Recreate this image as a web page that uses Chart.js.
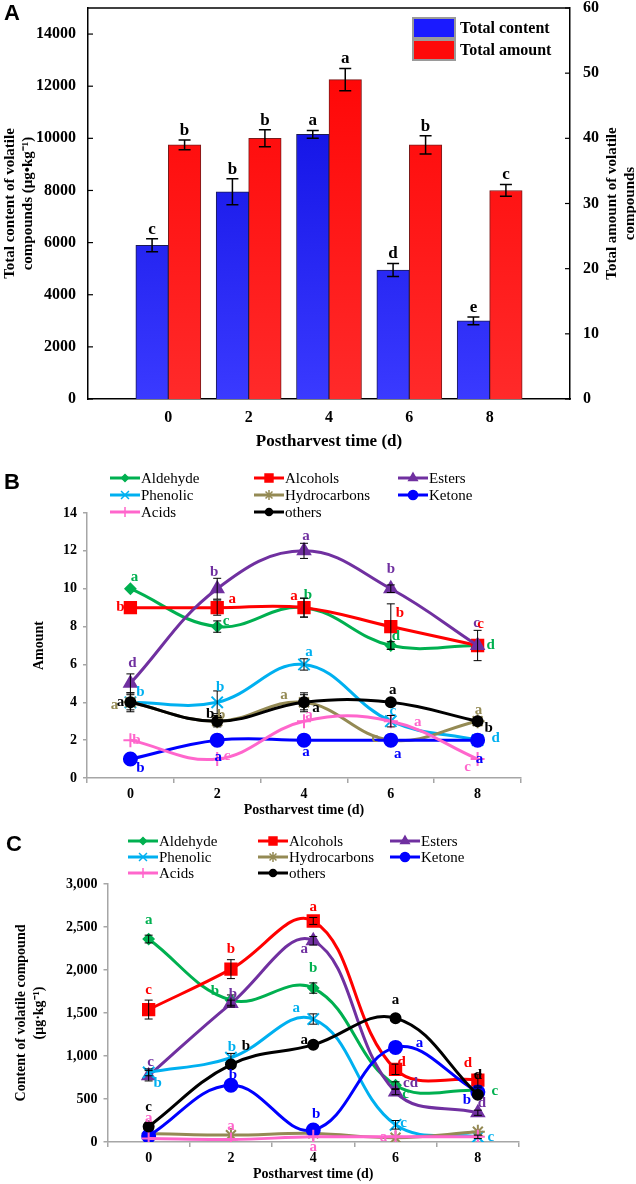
<!DOCTYPE html>
<html>
<head>
<meta charset="utf-8">
<script src="https://cdn.jsdelivr.net/npm/chart.js@4.4.0/dist/chart.umd.min.js"></script>
<style>
body { margin: 0; background: #fff; }
.panel { position: absolute; left: 0; width: 636px; }
</style>
</head>
<body>
<div class="panel" style="top:0;height:460px"><canvas id="chartA"></canvas></div>
<div class="panel" style="top:460px;height:360px"><canvas id="chartB"></canvas></div>
<div class="panel" style="top:820px;height:364px"><canvas id="chartC"></canvas></div>
<script>
// ---- data ----
var days = ['0', '2', '4', '6', '8'];

// A: totals
var contentTicks = [0, 2000, 4000, 6000, 8000, 10000, 12000, 14000];
var amountTicks = [0, 10, 20, 30, 40, 50, 60];
var totalContent = [5900, 7950, 10150, 4950, 3000];
var totalContentSd = [250, 500, 150, 250, 150];
var totalContentSig = ['c', 'b', 'a', 'd', 'e'];
var totalAmount = [39, 40, 49, 39, 32];
var totalAmountSd = [0.75, 1.3, 1.7, 1.4, 0.9];
var totalAmountSig = ['b', 'b', 'a', 'b', 'c'];

var classNames = ['Aldehyde', 'Alcohols', 'Esters', 'Phenolic', 'Hydrocarbons', 'Ketone', 'Acids', 'others'];

// B: amount of compounds per class
var amountAldehyde = [10, 8, 9, 7, 7];
var amountAlcohols = [9, 9, 9, 8, 7];
var amountEsters = [5, 10, 12, 10, 7];
var amountPhenolic = [4, 4, 6, 3, 2];
var amountHydrocarbons = [4, 3, 4, 2, 3];
var amountKetone = [1, 2, 2, 2, 2];
var amountAcids = [2, 1, 3, 3, 1];
var amountOthers = [4, 3, 4, 4, 3];

var amountAldehydeSd = [0, 0.3, 0.5, 0.2, 0];
var amountAlcoholsSd = [0, 0.4, 0.5, 1.2, 0];
var amountEstersSd = [0.5, 0.55, 0.4, 0.2, 0.8];
var amountPhenolicSd = [0, 0.6, 0.3, 0.3, 0];
var amountHydrocarbonsSd = [0.5, 0.3, 0.5, 0, 0.2];
var amountKetoneSd = [0, 0, 0, 0, 0];
var amountAcidsSd = [0, 0, 0, 0, 0];
var amountOthersSd = [0.4, 0.2, 0.4, 0, 0.2];

var amountAldehydeSig = ['a', 'c', 'b', 'd', 'd'];
var amountAlcoholsSig = ['b', 'a', 'a', 'b', 'c'];
var amountEstersSig = ['d', 'b', 'a', 'b', 'c'];
var amountPhenolicSig = ['b', 'b', 'a', 'c', 'd'];
var amountHydrocarbonsSig = ['a', 'b', 'a', 'c', 'a'];
var amountKetoneSig = ['b', 'a', 'a', 'a', 'a'];
var amountAcidsSig = ['b', 'c', 'a', 'a', 'c'];
var amountOthersSig = ['a', 'b', 'a', 'a', 'b'];

// C: content of compounds per class (ug/kg)
var contentAldehyde = [2360, 1650, 1790, 660, 600];
var contentAlcohols = [1540, 2010, 2570, 845, 720];
var contentEsters = [770, 1610, 2340, 580, 340];
var contentPhenolic = [810, 980, 1430, 200, 60];
var contentHydrocarbons = [100, 80, 100, 50, 120];
var contentKetone = [70, 660, 140, 1100, 580];
var contentAcids = [40, 30, 60, 60, 60];
var contentOthers = [180, 900, 1130, 1440, 550];

var contentAldehydeSd = [45, 60, 60, 40, 30];
var contentAlcoholsSd = [110, 110, 40, 60, 70];
var contentEstersSd = [60, 40, 50, 30, 30];
var contentPhenolicSd = [40, 50, 60, 50, 20];
var contentHydrocarbonsSd = [0, 0, 0, 0, 0];
var contentKetoneSd = [0, 0, 0, 0, 0];
var contentAcidsSd = [0, 0, 0, 0, 0];
var contentOthersSd = [30, 20, 20, 20, 20];

var contentAldehydeSig = ['a', 'b', 'b', 'c', 'c'];
var contentAlcoholsSig = ['c', 'b', 'a', 'd', 'd'];
var contentEstersSig = ['c', 'b', 'a', 'cd', 'd'];
var contentPhenolicSig = ['b', 'b', 'a', 'c', 'c'];
var contentHydrocarbonsSig = ['', '', '', '', ''];
var contentKetoneSig = ['', 'b', 'b', 'a', 'b'];
var contentAcidsSig = ['a', 'a', 'a', 'a', ''];
var contentOthersSig = ['c', 'b', 'a', 'a', 'd'];

// ---- styles ----
var serif = "'Liberation Serif', 'Times New Roman', serif";
var sans = "'Liberation Sans', Arial, sans-serif";
var classColors = ['#00b050', '#ff0000', '#7030a0', '#00b0f0', '#948a54', '#0000ff', '#ff66cc', '#000000'];
var classStyles = ['rectRot', 'rect', 'triangle', 'crossRot', 'star', 'circle', 'cross', 'circle'];
var classRadius = [5, 8, 7, 8, 7, 6.5, 7, 5];

// letter offsets [dx, dy] from each point
var offsetsB = [
    [[4, -12], [9, -5], [4, -13], [5, -9], [13, 0]],
    [[-10, -1], [15, -9], [-10, -12], [9, -13], [3, -21]],
    [[2, -20], [-3, -17], [2, -15], [0, -20], [-1, -22]],
    [[10, -10], [3, -15], [5, -12], [2, -10], [18, -2]],
    [[-16, 3], [4, -6], [-20, -7], [-16, -2], [1, -11]],
    [[10, 9], [1, 17], [2, 12], [7, 14], [2, 19]],
    [[6, 0], [10, -3], [5, -6], [27, 1], [-10, 8]],
    [[-10, 0], [-7, -7], [12, 6], [2, -12], [11, 7]]
];
var offsetsC = [
    [[0, -19], [-16, -9], [0, -20], [10, 9], [17, 1]],
    [[0, -19], [0, -20], [0, -14], [6, -7], [-10, -17]],
    [[2, -14], [2, -9], [-9, 8], [15, -9], [4, -10]],
    [[9, 11], [1, -11], [-17, -11], [8, -2], [13, 0]],
    [[0, 0], [0, 0], [0, 0], [0, 0], [0, 0]],
    [[0, 0], [2, -10], [3, -16], [24, -4], [-11, 8]],
    [[0, -20], [0, -13], [0, 10], [-12, 0], [0, 0]],
    [[0, -19], [15, -18], [-9, -5], [0, -18], [0, -20]]
];

function pad(arr) { return [null].concat(arr, [null]); }

// error bars, significance letters, legends, frame
var extras = {
    id: 'extras',
    afterDatasetsDraw: function (chart, args, o) {
        var ctx = chart.ctx;
        ctx.save();
        chart.data.datasets.forEach(function (ds, i) {
            var meta = chart.getDatasetMeta(i);
            var ys = chart.scales[meta.yAxisID];
            var offs = o.offsets ? o.offsets[i] : null;
            meta.data.forEach(function (el, j) {
                var v = ds.data[j];
                if (v == null) return;
                var e = ds.errors ? ds.errors[j] : 0;
                var x = el.x;
                if (e) {
                    var yt = ys.getPixelForValue(v + e), yb = ys.getPixelForValue(v - e);
                    ctx.strokeStyle = '#000';
                    ctx.lineWidth = o.errWidth;
                    ctx.beginPath();
                    ctx.moveTo(x, yt); ctx.lineTo(x, yb);
                    ctx.moveTo(x - o.cap, yt); ctx.lineTo(x + o.cap, yt);
                    ctx.moveTo(x - o.cap, yb); ctx.lineTo(x + o.cap, yb);
                    ctx.stroke();
                }
                var t = ds.letters ? ds.letters[j] : '';
                if (!t) return;
                ctx.font = o.letterFont;
                ctx.fillStyle = ds.letterColor || ds.borderColor;
                ctx.textAlign = 'center';
                if (offs) {
                    ctx.textBaseline = 'middle';
                    ctx.fillText(t, x + offs[j][0], el.y + offs[j][1]);
                } else {
                    ctx.textBaseline = 'bottom';
                    ctx.fillText(t, x, ys.getPixelForValue(v + e) - 1);
                }
            });
        });
        ctx.restore();
    },
    afterDraw: function (chart, args, o) {
        var ctx = chart.ctx;
        var area = chart.chartArea;
        ctx.save();
        // panel letter
        ctx.font = 'bold 22px ' + sans;
        ctx.fillStyle = '#000';
        ctx.textAlign = 'left';
        ctx.textBaseline = 'middle';
        ctx.fillText(o.panel[0], o.panel[1], o.panel[2]);

        if (o.frame) {
            ctx.strokeStyle = '#000';
            ctx.lineWidth = 1.5;
            ctx.beginPath();
            ctx.moveTo(area.left, area.top); ctx.lineTo(area.right, area.top);
            ctx.stroke();
            // inward tick marks
            ctx.lineWidth = 1.2;
            ['y', 'y1'].forEach(function (id) {
                var s = chart.scales[id];
                var dir = id === 'y' ? 1 : -1;
                var x0 = id === 'y' ? area.left : area.right;
                s.ticks.forEach(function (tk) {
                    var py = s.getPixelForValue(tk.value);
                    ctx.beginPath();
                    ctx.moveTo(x0, py); ctx.lineTo(x0 + dir * 5, py);
                    ctx.stroke();
                });
            });
            // right axis title, reading upwards
            ctx.save();
            ctx.translate(o.rightTitle.x, (area.top + area.bottom) / 2);
            ctx.rotate(-Math.PI / 2);
            ctx.font = 'bold 15px ' + serif;
            ctx.textAlign = 'center';
            ctx.textBaseline = 'middle';
            o.rightTitle.text.forEach(function (line, k) {
                ctx.fillText(line, 0, k * 18);
            });
            ctx.restore();
        }

        if (o.boxLegend) {
            var L = o.boxLegend;
            chart.data.datasets.forEach(function (ds, i) {
                var y = L.y + i * L.h;
                ctx.fillStyle = ds.legendColor;
                ctx.fillRect(L.x, y, L.w, L.h - 2);
                ctx.strokeStyle = '#9a9a9a';
                ctx.lineWidth = 2;
                ctx.strokeRect(L.x, y, L.w, L.h - 2);
                ctx.fillStyle = '#000';
                ctx.font = 'bold 16px ' + serif;
                ctx.textAlign = 'left';
                ctx.textBaseline = 'middle';
                ctx.fillText(ds.label, L.x + L.w + 5, y + L.h / 2);
            });
        }

        if (o.lineLegend) {
            var G = o.lineLegend;
            chart.data.datasets.forEach(function (ds, i) {
                var x = G.cols[i % 3], y = G.rows[Math.floor(i / 3)];
                ctx.strokeStyle = ds.borderColor;
                ctx.fillStyle = ds.borderColor;
                ctx.lineWidth = 3;
                ctx.beginPath();
                ctx.moveTo(x, y); ctx.lineTo(x + G.len, y);
                ctx.stroke();
                ctx.lineWidth = 1.5;
                Chart.helpers.drawPoint(ctx, {
                    pointStyle: ds.pointStyle, rotation: 0,
                    radius: ds.pointRadius * 0.7, borderWidth: 1.5
                }, x + G.len / 2, y);
                ctx.fillStyle = '#000';
                ctx.font = G.font;
                ctx.textAlign = 'left';
                ctx.textBaseline = 'middle';
                ctx.fillText(ds.label, x + G.len + 1, y + 1);
            });
        }
        ctx.restore();
    }
};

function vertGrad(top, bottom) {
    return function (c) {
        var area = c.chart.chartArea;
        if (!area) return top;
        var g = c.chart.ctx.createLinearGradient(0, area.top, 0, area.bottom);
        g.addColorStop(0, top);
        g.addColorStop(1, bottom);
        return g;
    };
}

function fixedTicks(list) {
    return function (s) {
        s.ticks = list.map(function (v) { return { value: v }; });
    };
}

var tickFontA = { family: serif, weight: 'bold', size: 16 };

new Chart(document.getElementById('chartA'), {
    type: 'bar',
    data: {
        labels: pad(days).map(function (d) { return d == null ? '' : d; }),
        datasets: [{
            label: 'Total content',
            data: pad(totalContent),
            errors: pad(totalContentSd),
            letters: pad(totalContentSig),
            yAxisID: 'y',
            backgroundColor: vertGrad('#0505dc', '#3a3aff'),
            legendColor: '#1a1aff',
            borderColor: '#1b1b55',
            borderWidth: 1,
            barThickness: 32.5,
            letterColor: '#000'
        }, {
            label: 'Total amount',
            data: pad(totalAmount),
            errors: pad(totalAmountSd),
            letters: pad(totalAmountSig),
            yAxisID: 'y1',
            backgroundColor: vertGrad('#ff0000', '#ff2a2a'),
            legendColor: '#ff0a0a',
            borderColor: '#7a1a1a',
            borderWidth: 1,
            barThickness: 32.5,
            letterColor: '#000'
        }]
    },
    options: {
        responsive: true,
        maintainAspectRatio: false,
        animation: false,
        layout: { padding: { top: 8 } },
        plugins: {
            legend: { display: false },
            tooltip: { enabled: false },
            extras: {
                panel: ['A', 4, 14],
                frame: true,
                cap: 6,
                errWidth: 1.5,
                letterFont: 'bold 17px ' + serif,
                rightTitle: { x: 612, text: ['Total amount of volatile', 'compounds'] },
                boxLegend: { x: 413, y: 18, w: 42, h: 22 }
            }
        },
        scales: {
            x: {
                offset: false,
                grid: { display: false },
                border: { color: '#000', width: 1.5 },
                ticks: { color: '#000', font: tickFontA, padding: 1 },
                title: {
                    display: true, text: 'Postharvest time (d)', color: '#000',
                    font: { family: serif, weight: 'bold', size: 17 }, padding: { bottom: 8 }
                },
                afterFit: function (s) { s.height = 61; }
            },
            y: {
                position: 'left',
                min: 0, max: 15000,
                grid: { display: false },
                border: { color: '#000', width: 1.5 },
                afterBuildTicks: fixedTicks(contentTicks),
                ticks: { color: '#000', font: tickFontA, padding: 4, callback: function (v) { return String(v); } },
                title: {
                    display: true, text: ['Total content of volatile', 'compounds (μg•kg⁻¹)'], color: '#000',
                    font: { family: serif, weight: 'bold', size: 15, lineHeight: 1.2 }, padding: { top: 1 }
                },
                afterFit: function (s) { s.width = 88; s.paddingTop = 0; }
            },
            y1: {
                position: 'right',
                min: 0, max: 60,
                grid: { display: false },
                border: { color: '#000', width: 1.5 },
                afterBuildTicks: fixedTicks(amountTicks),
                ticks: { color: '#000', font: tickFontA, padding: 5 },
                afterFit: function (s) { s.width = 66; s.paddingTop = 0; }
            }
        }
    },
    plugins: [extras]
});

function lineSets(values, errors, letters) {
    return classNames.map(function (name, i) {
        return {
            label: name,
            data: values[i],
            errors: errors[i],
            letters: letters[i],
            borderColor: classColors[i],
            backgroundColor: classColors[i],
            pointStyle: classStyles[i],
            pointRadius: classRadius[i],
            pointBackgroundColor: classColors[i],
            pointBorderColor: classColors[i],
            pointBorderWidth: 2,
            borderWidth: 3,
            tension: 0.4,
            fill: false,
            order: classNames.length - i
        };
    });
}

function lineOptions(o) {
    var grey = '#a6a6a6';
    return {
        responsive: true,
        maintainAspectRatio: false,
        animation: false,
        layout: { padding: { top: o.top, right: o.right } },
        plugins: {
            legend: { display: false },
            tooltip: { enabled: false },
            extras: {
                panel: o.panel,
                cap: 4,
                errWidth: 1,
                letterFont: 'bold 15px ' + serif,
                offsets: o.offsets,
                lineLegend: { cols: o.cols, rows: o.rows, len: 30, font: '15px ' + serif }
            }
        },
        scales: {
            x: {
                offset: true,
                grid: { offset: true, drawOnChartArea: false, color: grey, tickLength: 5, lineWidth: 1.5 },
                border: { color: grey, width: 1.5 },
                ticks: { color: '#000', font: { family: serif, weight: 'bold', size: 14 }, padding: 3 },
                title: {
                    display: true, text: 'Postharvest time (d)', color: '#000',
                    font: { family: serif, weight: 'bold', size: 14 }, padding: { top: 0, bottom: o.titlePad }
                },
                afterFit: function (s) { s.height = o.xh; }
            },
            y: {
                min: 0, max: o.max,
                grid: { drawOnChartArea: false, color: grey, tickLength: 4, lineWidth: 1.5 },
                border: { color: grey, width: 1.5 },
                ticks: {
                    stepSize: o.step, color: '#000', padding: 6,
                    font: { family: serif, weight: 'bold', size: 14 },
                    callback: function (v) { return v.toLocaleString('en-US'); }
                },
                title: {
                    display: true, text: o.ytitle, color: '#000',
                    font: { family: serif, weight: 'bold', size: 14, lineHeight: 1.3 }, padding: { top: o.ytPad }
                },
                afterFit: function (s) { s.width = o.yw; }
            }
        }
    };
}

new Chart(document.getElementById('chartB'), {
    type: 'line',
    data: {
        labels: days,
        datasets: lineSets(
            [amountAldehyde, amountAlcohols, amountEsters, amountPhenolic, amountHydrocarbons, amountKetone, amountAcids, amountOthers],
            [amountAldehydeSd, amountAlcoholsSd, amountEstersSd, amountPhenolicSd, amountHydrocarbonsSd, amountKetoneSd, amountAcidsSd, amountOthersSd],
            [amountAldehydeSig, amountAlcoholsSig, amountEstersSig, amountPhenolicSig, amountHydrocarbonsSig, amountKetoneSig, amountAcidsSig, amountOthersSig]
        )
    },
    options: lineOptions({
        top: 53, right: 115, yw: 87, xh: 42, max: 14, step: 2,
        ytitle: 'Amount', ytPad: 30, titlePad: 1,
        panel: ['B', 4, 23], offsets: offsetsB,
        cols: [110, 254, 398], rows: [18, 35, 52]
    }),
    plugins: [extras]
});

new Chart(document.getElementById('chartC'), {
    type: 'line',
    data: {
        labels: days,
        datasets: lineSets(
            [contentAldehyde, contentAlcohols, contentEsters, contentPhenolic, contentHydrocarbons, contentKetone, contentAcids, contentOthers],
            [contentAldehydeSd, contentAlcoholsSd, contentEstersSd, contentPhenolicSd, contentHydrocarbonsSd, contentKetoneSd, contentAcidsSd, contentOthersSd],
            [contentAldehydeSig, contentAlcoholsSig, contentEstersSig, contentPhenolicSig, contentHydrocarbonsSig, contentKetoneSig, contentAcidsSig, contentOthersSig]
        )
    },
    options: lineOptions({
        top: 64, right: 117, yw: 107.5, xh: 42, max: 3000, step: 500,
        ytitle: ['Content of volatile compound', '(μg·kg⁻¹)'], ytPad: 12, titlePad: 1,
        panel: ['C', 6, 25], offsets: offsetsC,
        cols: [128, 258, 390], rows: [21, 37, 53]
    }),
    plugins: [extras]
});
</script>
</body>
</html>
